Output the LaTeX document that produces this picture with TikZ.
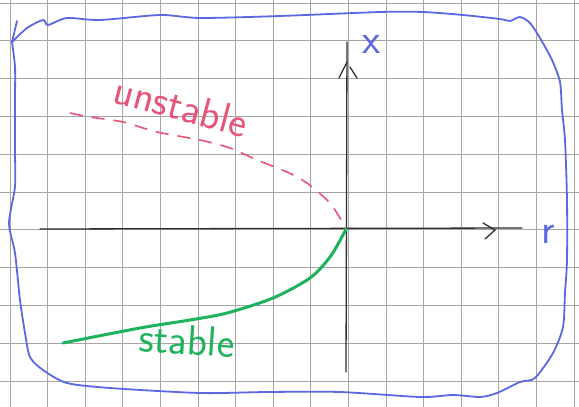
\documentclass[tikz,border=0pt]{standalone}
\usetikzlibrary{calc}
\definecolor{gridc}{RGB}{165,165,165}
\definecolor{framec}{RGB}{92,104,226}
\definecolor{unstc}{RGB}{232,84,118}
\definecolor{stabc}{RGB}{30,178,92}
\definecolor{axisc}{RGB}{45,45,45}
\tikzset{
  gridline/.style={gridc, line width=0.7pt},
  framebox/.style={framec, line width=1.8pt, line join=round, line cap=round},
  axisline/.style={axisc, line width=1.3pt, line cap=round},
  unstcurve/.style={unstc, line width=1.6pt, dash pattern=on 13pt off 9pt},
  stabcurve/.style={stabc, line width=3pt, line cap=round},
  hand/.style={inner sep=0pt, font=\sffamily\fontsize{42}{48}\selectfont},
}
\begin{document}
\begin{tikzpicture}[x=1pt,y=-1pt]
\useasboundingbox (0,0) rectangle (579,407);
\fill[white] (0,0) rectangle (579,407);
% graph paper
\foreach \i in {0,...,15} \draw[gridline] ({10+37.6*\i},0) -- ({10+37.6*\i},407);
\foreach \j in {0,...,10} \draw[gridline] (0,{3+37.8*\j}) -- (579,{3+37.8*\j});
% frame
\draw[framebox] (17,21) -- (12,42);
\draw[framebox] plot[smooth, tension=0.45] coordinates {
 (12,42) (27,28) (43,20) (48,25) (67,18) (100,20) (160,15) (200,18)
 (280,16) (380,12) (423,12) (463,15) (500,19) (510,21) (520,17) (530,23)
 (540,38) (552,60) (560,82) (562,110) (565,140) (567,200) (567,260) (565,293)
 (563,327) (553,353) (535,378) (520,382) (497,393) (480,397) (453,395)
 (420,397) (340,392) (267,392) (200,393) (110,388) (67,383) (43,370)
 (30,357) (25,333) (20,300) (15,253) (9,223) (15,187) (15,153) (15,120)
 (15,100) (15,67) (12,42)};
% axes
\coordinate (O) at (346,229);
\coordinate (xl) at (40,229);
\coordinate (xr) at (522,228);
\coordinate (yb) at (346,372);
\coordinate (yt) at (347,42);
\coordinate (ue) at (70,113);
\coordinate (se) at (63,343);
\draw[axisline] (xl) -- (xr);
\draw[axisline] (483,223) -- (495,230) -- (485,239);
\draw[axisline] (yb) -- (yt);
\draw[axisline] (339,78) -- (347,62);
\draw[axisline] (350,67) -- (357,78);
% curves
\draw[unstcurve] plot[smooth] coordinates {(ue) (90,117) (123,122) (157,132) (200,140)
  (230,148) (257,160) (287,172) (307,183) (327,200) (337,213) (O)};
\draw[stabcurve] plot[smooth] coordinates {(O) (343,235) (330,257) (310,278) (273,298)
  (227,313) (190,320) (140,328) (se)};
% labels
\node[hand, text=framec] (lx) at (372,44) {x};
\node[hand, text=framec] (lr) at (548,234) {r};
\node[hand, text=unstc, rotate=-15] (lu) at (181,106) {unstable};
\node[hand, text=stabc, rotate=-4] (ls) at (187,340) {stable};
\end{tikzpicture}
\end{document}
